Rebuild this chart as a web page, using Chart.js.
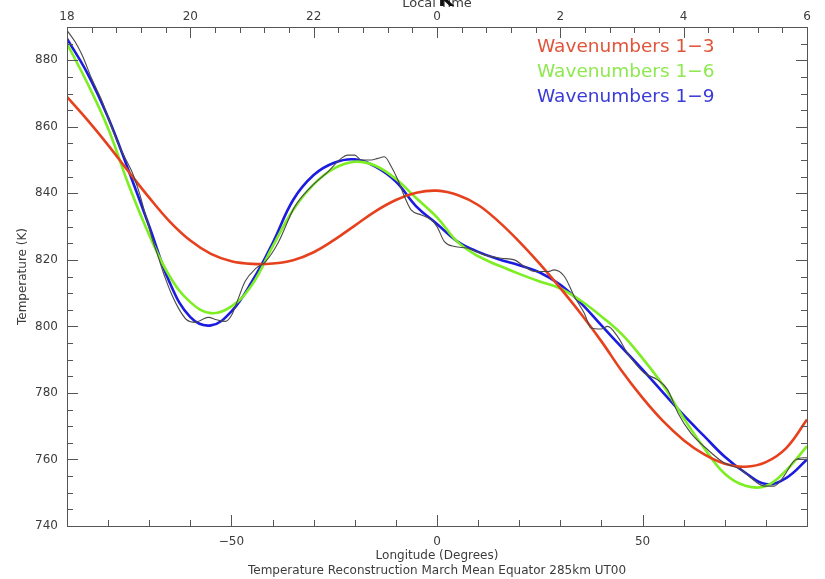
<!DOCTYPE html>
<html><head><meta charset="utf-8">
<script src="https://cdn.jsdelivr.net/npm/chart.js@4.4.1/dist/chart.umd.min.js"></script>
<style>html,body{margin:0;padding:0;background:#fff;}#wrap{position:relative;width:825px;height:579px;}</style>
</head><body><div id="wrap"><canvas id="c" width="825" height="579"></canvas></div>
<script>
// ---- data ----
const longitudes = [-90,-85,-80,-75,-70,-65,-60,-55,-50,-45,-40,-35,-30,-25,-20,-15,-10,-5,0,5,10,15,20,25,30,35,40,45,50,55,60,65,70,75,80,85,90];
const wave13 = [869,862,854.5,846.5,838.7,831.5,825.8,821.8,819.6,818.8,818.9,819.9,822.3,826,830.3,834.6,838,840.2,840.8,839.5,836.5,831.5,825.5,818.8,811.5,803.8,795.5,786.5,778.5,771.5,765.8,761.5,758.7,757.8,759.2,763.5,772];
const wave16 = [885,873,859.5,842.5,827.5,815,807.3,804,806,812.5,824,835,842.7,847.5,849.5,848.3,844.3,838.5,832.8,825.4,821.1,818.3,815.8,813.5,811.4,807.7,803,797.6,790.4,782.3,772.4,763.4,755.7,752.1,752,756.8,764];
const wave19 = [886.5,876,862.8,846.8,830.1,813.1,802.8,800.3,804.5,813.5,825,838,845.5,849.2,850.2,848,843.5,836,830.8,825.5,822.4,820.2,818.4,816.2,812.5,807,800.3,793.6,787,780.1,773.3,767,760.8,756,752.6,754.5,760];
const rawLon = [-90,-88,-86.3,-84,-81.4,-79,-77.4,-75.8,-74.2,-72.5,-70.9,-69.3,-67.7,-66.1,-64.5,-62.9,-60.9,-58.8,-57.2,-55.6,-53.6,-51.5,-49.9,-48.3,-46.7,-44,-41.7,-38.7,-34.6,-30.6,-26.5,-23.3,-21.7,-20,-18.4,-16,-14.4,-12.8,-11.1,-9.5,-7.9,-6.3,-3.8,-1.4,0,1.8,4.3,7.5,11.5,15.6,18.8,21.3,23.7,27,28.5,31,33.4,35.8,37.5,39.9,41.5,43.9,46.3,50.4,53.6,56.1,58.6,61.7,65.8,69.8,73.9,76.3,79.6,82,84.4,86.8,89.3,90];
const rawTemp = [889,885.5,881.5,874.5,867.5,859.5,854.5,850.5,846.5,840.5,833.5,826.5,820.5,814.5,809.5,805.5,802,801.2,802,802.7,802,801.5,803.5,808.5,813.5,817.5,819.5,825,836,842,846.5,850.5,851.5,851.5,850,850,850.5,851,848,844,839,835,833.5,832,830,825.5,824,823.5,821.5,820.5,820,818,816.5,816.5,817,815,809,804,799.5,799.2,800,797,792,786,784,781,774,768,763,759,757,754.5,752,752,755,759.5,760.5,760.5];
const seriesNames = ['Wavenumbers 1\u22123','Wavenumbers 1\u22126','Wavenumbers 1\u22129'];
const tempTickLabels = [740,760,780,800,820,840,860,880];
const lonTickLabels = [-50,0,50];
const localTimeLabels = ['18','20','22','0','2','4','6'];
const localTimeLons = [-90,-60,-30,0,30,60,90];

const FONT = '"DejaVu Sans", sans-serif';
const AX = '#555';
const TXT = '#3c3c3c';
const colors = ['#e6401c','#7cee22','#1c1ce0'];
const legendColors = ['#e0553a','#8ee84e','#3a3ad6'];

function pts(xs, ys){ return xs.map((x,i)=>({x:x, y:ys[i]})); }
function near(v, arr){ return arr.some(a => Math.abs(a - v) < 1e-6); }

const decor = {
  id: 'decor',
  afterDatasetsDraw(chart){
    const {ctx, chartArea:a, scales} = chart;
    ctx.save();
    ctx.strokeStyle = AX; ctx.lineWidth = 1;
    ctx.beginPath();
    for (let v=-90; v<=90; v+=10){
      const x = Math.round(scales.x.getPixelForValue(v)) + 0.5;
      const L = near(v, lonTickLabels) ? 11 : 6;
      ctx.moveTo(x, a.bottom); ctx.lineTo(x, a.bottom - L);
    }
    for (let v=-90; v<=90; v+=6){
      const x = Math.round(scales.xTop.getPixelForValue(v)) + 0.5;
      const L = near(v, localTimeLons) ? 11 : 6;
      ctx.moveTo(x, a.top); ctx.lineTo(x, a.top + L);
    }
    for (let v=740; v<=890; v+=5){
      const y = Math.round(scales.y.getPixelForValue(v)) + 0.5;
      const L = near(v, tempTickLabels) ? 11 : 6;
      ctx.moveTo(a.left, y); ctx.lineTo(a.left + L, y);
      ctx.moveTo(a.right, y); ctx.lineTo(a.right - L, y);
    }
    ctx.stroke();
    ctx.strokeRect(Math.round(a.left)+0.5, Math.round(a.top)+0.5, Math.round(a.right-a.left), Math.round(a.bottom-a.top));
    // legend
    ctx.font = '18.5px ' + FONT;
    ctx.textBaseline = 'middle'; ctx.textAlign = 'left';
    seriesNames.forEach((n,i)=>{ ctx.fillStyle = legendColors[i]; ctx.fillText(n, 537, 47 + i*25); });
    // titles
    ctx.fillStyle = TXT;
    ctx.textAlign = 'center'; ctx.textBaseline = 'alphabetic';
    ctx.font = '12px ' + FONT;
    ctx.fillText('Longitude (Degrees)', (a.left+a.right)/2, 559);
    ctx.fillText('Temperature Reconstruction March Mean Equator 285km UT00', (a.left+a.right)/2, 574);
    ctx.font = '13px ' + FONT;
    ctx.fillText('Local Time', (a.left+a.right)/2, 7);
    ctx.fillStyle = '#111';
    ctx.font = 'bold 20px ' + FONT;
    ctx.fillText('K', 446, 6);
    ctx.fillStyle = TXT;
    ctx.font = '12px ' + FONT;
    ctx.translate(23, (a.top+a.bottom)/2);
    ctx.rotate(-Math.PI/2);
    ctx.textBaseline = 'middle';
    ctx.fillText('Temperature (K)', 0, 0);
    ctx.restore();
  }
};

const lineDs = (label, data, color, w, extra) => Object.assign({
  label, data, borderColor: color, backgroundColor: color, borderWidth: w,
  pointRadius: 0, fill: false, tension: 0.4
}, extra || {});

new Chart(document.getElementById('c'), {
  type: 'line',
  data: { datasets: [
    lineDs('Raw', pts(rawLon, rawTemp), '#4a4a4a', 1.1, {cubicInterpolationMode:'monotone'}),
    lineDs(seriesNames[0], pts(longitudes, wave13), colors[0], 2.6),
    lineDs(seriesNames[1], pts(longitudes, wave16), colors[1], 2.6),
    lineDs(seriesNames[2], pts(longitudes, wave19), colors[2], 2.6)
  ]},
  options: {
    responsive: false, animation: false, devicePixelRatio: 1,
    layout: { padding: 0 },
    plugins: { legend: {display:false}, tooltip: {enabled:false}, title:{display:false} },
    scales: {
      x: { type:'linear', position:'bottom', min:-90, max:90,
        grid:{display:false, drawTicks:false}, border:{display:false},
        ticks:{ stepSize:10, autoSkip:false, maxRotation:0, padding:9, color:TXT, font:{family:FONT, size:12},
          callback:(v)=> near(v, lonTickLabels) ? (v<0 ? '\u2212'+Math.abs(v) : String(v)) : '' },
        afterFit:(s)=>{ s.height = 53; } },
      xTop: { type:'linear', position:'top', min:-90, max:90,
        grid:{display:false, drawTicks:false}, border:{display:false},
        ticks:{ stepSize:6, autoSkip:false, maxRotation:0, padding:3, color:TXT, font:{family:FONT, size:12},
          callback:(v)=>{ const i = localTimeLons.findIndex(a=>Math.abs(a-v)<1e-6); return i>=0 ? localTimeLabels[i] : ''; } },
        afterFit:(s)=>{ s.height = 27; } },
      y: { type:'linear', position:'left', min:740, max:890,
        grid:{display:false, drawTicks:false}, border:{display:false},
        ticks:{ stepSize:5, autoSkip:false, padding:9, color:TXT, font:{family:FONT, size:12},
          callback:(v)=> near(v, tempTickLabels) ? String(v) : '' },
        afterFit:(s)=>{ s.width = 67; } },
      yRight: { type:'linear', position:'right', min:740, max:890,
        grid:{display:false, drawTicks:false}, border:{display:false},
        ticks:{ display:false },
        afterFit:(s)=>{ s.width = 18; } }
    }
  },
  plugins: [decor]
});
</script></body></html>
